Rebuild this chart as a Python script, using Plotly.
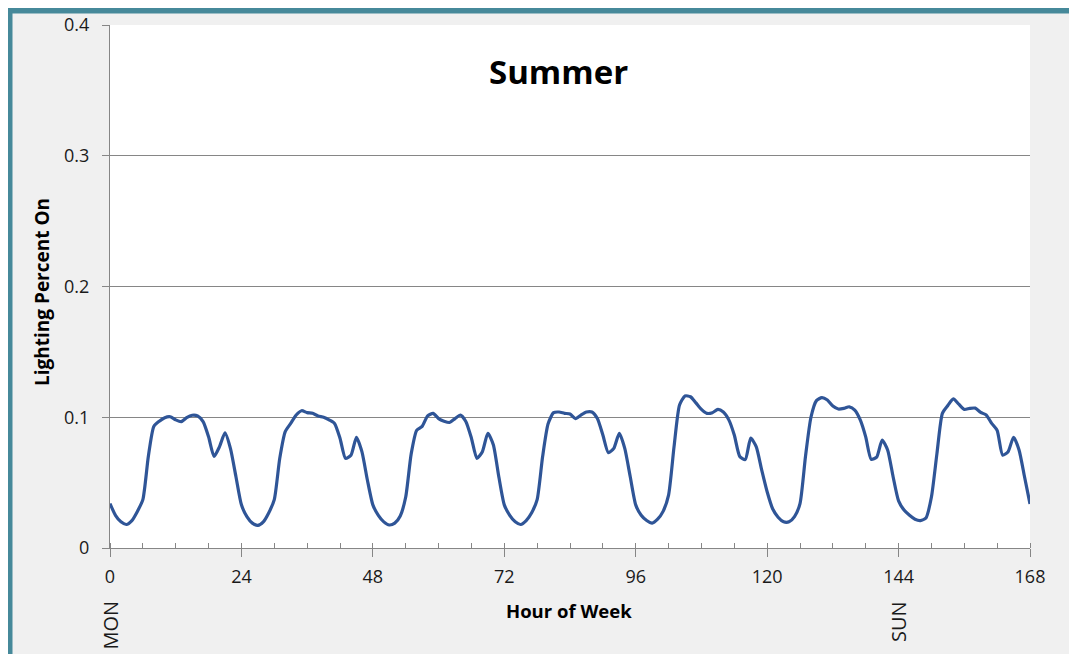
import plotly.graph_objects as go

hours = list(range(0, 169))

# lighting fraction on, read hour by hour from the chart
lighting_on = [
    0.034, 0.025, 0.020, 0.018, 0.021, 0.028, 0.037, 0.070, 0.093, 0.097,
    0.0997, 0.1004, 0.098, 0.0966, 0.0997, 0.1015, 0.101, 0.0966, 0.085, 0.070,
    0.0775, 0.088, 0.076, 0.0545, 0.033, 0.024, 0.019, 0.0173, 0.020, 0.027,
    0.037, 0.0686, 0.089, 0.0953, 0.1017, 0.105, 0.1035, 0.103, 0.101, 0.100,
    0.098, 0.0953, 0.084, 0.0686, 0.071, 0.0847, 0.0737, 0.052, 0.033, 0.025,
    0.020, 0.0176, 0.019, 0.0245, 0.039, 0.072, 0.090, 0.093, 0.101, 0.103,
    0.099, 0.097, 0.096, 0.099, 0.1017, 0.0966, 0.084, 0.0686, 0.0737, 0.0877,
    0.079, 0.0545, 0.033, 0.025, 0.020, 0.018, 0.021, 0.027, 0.037, 0.070,
    0.095, 0.1035, 0.104, 0.103, 0.1025, 0.099, 0.1017, 0.104, 0.104, 0.099,
    0.0864, 0.0729, 0.0762, 0.0877, 0.0762, 0.0545, 0.033, 0.025, 0.021, 0.019,
    0.022, 0.028, 0.0405, 0.0775, 0.1094, 0.1163, 0.1157, 0.111, 0.106, 0.103,
    0.1035, 0.106, 0.104, 0.098, 0.0864, 0.070, 0.0676, 0.084, 0.0775, 0.0597,
    0.043, 0.030, 0.0235, 0.020, 0.020, 0.024, 0.034, 0.070, 0.100, 0.1127,
    0.115, 0.1132, 0.1086, 0.1063, 0.1068, 0.108, 0.1055, 0.098, 0.085, 0.0678,
    0.0695, 0.0826, 0.075, 0.0545, 0.036, 0.029, 0.025, 0.022, 0.021, 0.023,
    0.039, 0.072, 0.103, 0.109, 0.114, 0.110, 0.106, 0.1068, 0.107, 0.1037,
    0.1017, 0.0953, 0.090, 0.071, 0.0737, 0.0847, 0.075, 0.0545, 0.0337,
]

x_ticks = [0, 24, 48, 72, 96, 120, 144, 168]
y_ticks = [0, 0.1, 0.2, 0.3, 0.4]
day_marks = {0: "MON", 144: "SUN"}

# page has an 8px body margin, so the figure is drawn 8px smaller
OFF = 8
W, H = 1077 - OFF, 654 - OFF
# plot area in page pixels
L, R, T, B = 110, 1030, 25, 548


def fx(p):
    return (p - L) / (R - L)


def fy(p):
    return (B - p) / (B - T)


teal = "#46899a"
font = "Open Sans, sans-serif"

fig = go.Figure()
fig.add_trace(go.Scatter(
    x=hours, y=lighting_on, mode="lines",
    line=dict(color="#2f5597", width=3.2, shape="spline", smoothing=0.6),
    hoverinfo="skip", showlegend=False,
))

shapes = [
    dict(type="rect", xref="paper", yref="paper", x0=fx(7), x1=fx(1090), y0=fy(13.5), y1=fy(0),
         fillcolor=teal, line_width=0, layer="below"),
    dict(type="rect", xref="paper", yref="paper", x0=fx(0), x1=fx(12.5), y0=fy(700), y1=fy(7),
         fillcolor=teal, line_width=0, layer="below"),
]

annotations = [
    dict(text="<b>Summer</b>", x=fx(558), y=fy(71), xref="paper", yref="paper",
         xanchor="center", yanchor="middle",
         showarrow=False, font=dict(size=33, color="black", family=font)),
    dict(text="<b>Lighting Percent On</b>", x=fx(42), y=fy(292), xref="paper", yref="paper",
         xanchor="center", yanchor="middle",
         textangle=-90, showarrow=False, font=dict(size=19, color="black", family=font)),
    dict(text="<b>Hour of Week</b>", x=fx(569), y=fy(610), xref="paper", yref="paper",
         xanchor="center", yanchor="middle",
         showarrow=False, font=dict(size=18.5, color="black", family=font)),
]
for h, name in day_marks.items():
    annotations.append(dict(
        text=name, x=h, xref="x", y=fy(599), yref="paper", yanchor="top", xanchor="center",
        textangle=-90, showarrow=False, font=dict(size=20, color="#1a1a1a", family=font),
    ))

fig.update_layout(
    width=W, height=H,
    margin=dict(l=L - OFF, r=W - (R - OFF), t=T - OFF, b=H - (B - OFF), pad=0, autoexpand=False),
    paper_bgcolor="#f0f0f0", plot_bgcolor="white",
    shapes=shapes, annotations=annotations,
    font=dict(family=font, size=18, color="#1a1a1a"),
    xaxis=dict(
        range=[0, 168], tickvals=x_ticks, ticks="outside", ticklen=8,
        tickcolor="#868686", showline=True, linecolor="#868686", linewidth=1,
        showgrid=False, zeroline=False, ticklabelstandoff=4, automargin=False,
        minor=dict(dtick=6, tick0=0, ticks="inside", ticklen=5, tickcolor="#868686", showgrid=False),
        tickfont=dict(size=18),
    ),
    yaxis=dict(
        range=[0, 0.4], tickvals=y_ticks, ticktext=["0", "0.1", "0.2", "0.3", "0.4"],
        ticks="outside", ticklen=7, tickcolor="#868686",
        showline=True, linecolor="#868686", linewidth=1, automargin=False,
        showgrid=True, gridcolor="#868686", gridwidth=1, zeroline=False,
        tickfont=dict(size=18), ticklabelstandoff=9,
    ),
)

fig.write_html("out.html")
